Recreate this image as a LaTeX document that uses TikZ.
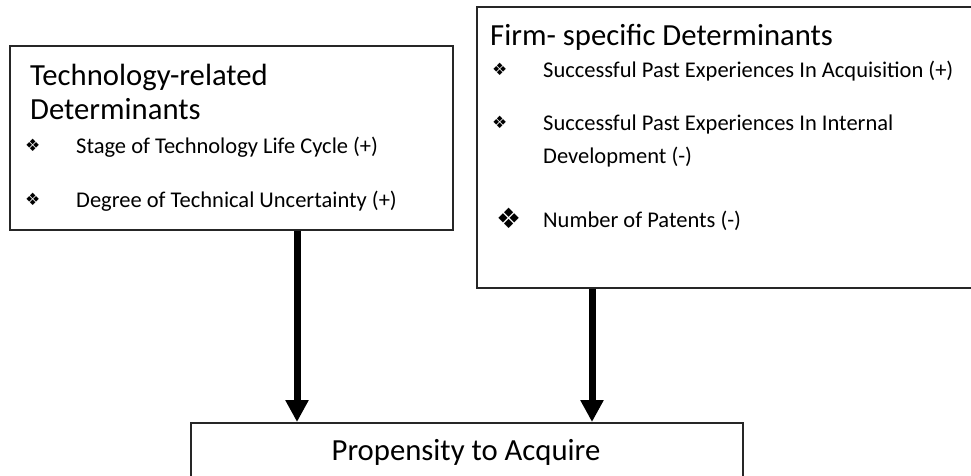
\documentclass[tikz,border=0pt]{standalone}
\usepackage{fontspec}
\setmainfont{Carlito}
\newfontfamily\symfont{DejaVu Sans}
\usetikzlibrary{arrows.meta}
\begin{document}
\begin{tikzpicture}[x=1pt,y=-1pt,
  boxed/.style={draw=black!85,line width=1.6pt,rectangle,anchor=north west,inner sep=0pt},
  ttl/.style={anchor=base west,inner sep=0pt,font=\fontsize{30.7}{34}\selectfont},
  itm/.style={anchor=base west,inner sep=0pt,font=\fontsize{22.5}{26}\selectfont},
  bul/.style={anchor=base west,inner sep=0pt,font=\symfont\fontsize{17}{18}\selectfont},
  bigbul/.style={anchor=base west,inner sep=0pt,font=\symfont\fontsize{28}{30}\selectfont},
  arr/.style={line width=7pt,-{Triangle[width=22pt,length=22pt]}}]
\useasboundingbox (0,0) rectangle (971,475);
\clip (0,0) rectangle (971,475);
\fill[white] (0,0) rectangle (971,475);
% boxes
\node[boxed,minimum width=443pt,minimum height=184pt] (lb) at (9,45) {};
\node[boxed,minimum width=560pt,minimum height=281pt] (rb) at (476,6) {};
\node[boxed,minimum width=552pt,minimum height=120pt] (bb) at (190,422) {};
% left box text
\node[ttl] (lt1) at (30,85) {Technology-related};
\node[ttl] (lt2) at (30,119) {Determinants};
\node[bul] (lb1) at (25,151) {❖};
\node[itm] (li1) at (76,153) {Stage of Technology Life Cycle (+)};
\node[bul] (lb2) at (25,205) {❖};
\node[itm] (li2) at (76,207) {Degree of Technical Uncertainty (+)};
% right box text
\node[ttl] (rt1) at (490,45) {Firm- specific Determinants};
\node[bul] (rb1) at (492,75) {❖};
\node[itm] (ri1) at (543,77) {Successful Past Experiences In Acquisition (+)};
\node[bul] (rb2) at (492,128) {❖};
\node[itm] (ri2) at (543,130) {Successful Past Experiences In Internal};
\node[itm] (ri3) at (543,163) {Development (-)};
\node[bigbul] (rb3) at (496,228) {❖};
\node[itm] (ri4) at (543,227) {Number of Patents (-)};
% bottom box text
\node[ttl,anchor=base] (bt) at (466,460) {Propensity to Acquire};
% arrows
\coordinate (ax1) at (297,0);
\coordinate (ax2) at (592,0);
\draw[arr] (lb.south -| ax1) -- (bb.north -| ax1);
\draw[arr] (rb.south -| ax2) -- (bb.north -| ax2);
\end{tikzpicture}
\end{document}
